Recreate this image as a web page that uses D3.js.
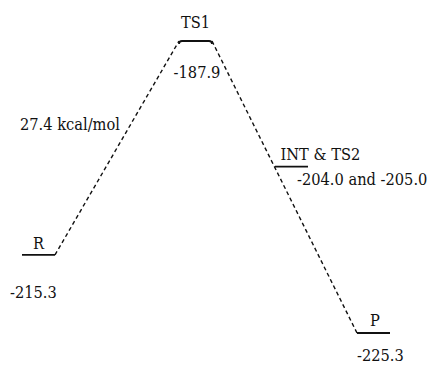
<!DOCTYPE html>
<html>
<head>
<meta charset="utf-8">
<script src="https://cdn.jsdelivr.net/npm/d3@7"></script>
<style>
  html, body { margin: 0; padding: 0; background: #fff; }
  svg { display: block; }
</style>
</head>
<body>
<svg id="chart" width="433" height="366"></svg>
<script>
// Stationary points along the reaction path (kcal/mol)
const species = ["R", "TS1", "INT", "P"];
const names = ["R", "TS1", "INT & TS2", "P"];
const energies = [-215.3, -187.9, -204.0, -225.3];
const energyLabels = ["-215.3", "-187.9", "-204.0 and -205.0", "-225.3"];

const svg = d3.select("#chart");
const FONT = "'DejaVu Serif', serif";
const SQUEEZE = 0.86; // narrower glyphs, closer to a Times-style face

// Reaction coordinate (schematic) and energy axis
const x = d3.scaleOrdinal().domain(species).range([38.5, 195.5, 291.5, 373.5]);
const y = d3.scaleLinear().domain([-225.3, -187.9]).range([333, 41]);
const halfW = 16.5;

const pts = species.map((s, i) => ({ s, name: names[i], e: energies[i], lab: energyLabels[i] }));
const byS = Object.fromEntries(pts.map(p => [p.s, p]));

// Dashed connectors: R -> TS1 -> P (INT & TS2 sits on the descending branch)
const conn = [[byS.R, byS.TS1], [byS.TS1, byS.P]];
svg.selectAll("line.conn").data(conn).join("line")
  .attr("class", "conn")
  .attr("x1", d => x(d[0].s) + halfW)
  .attr("y1", d => y(d[0].e))
  .attr("x2", d => x(d[1].s) - halfW)
  .attr("y2", d => y(d[1].e))
  .attr("stroke", "#111")
  .attr("stroke-width", 1.4)
  .attr("stroke-dasharray", "4,3");

// Energy levels
svg.selectAll("path.level").data(pts).join("path")
  .attr("class", "level")
  .attr("d", d => {
    const x0 = x(d.s) - halfW, x1 = x(d.s) + halfW, yy = y(d.e);
    if (d.s === "TS1") {
      return `M${x0},${yy + 3}Q${x0},${yy} ${x0 + 3},${yy}L${x1 - 3},${yy}Q${x1},${yy} ${x1},${yy + 3}`;
    }
    return `M${x0},${yy}L${x1},${yy}`;
  })
  .attr("fill", "none")
  .attr("stroke", "#111")
  .attr("stroke-width", 1.8);

// Label placement relative to each level
const nameOff = { R: [0, -6, "middle"], TS1: [0, -13.5, "middle"], INT: [-11, -7, "start"], P: [1.5, -7, "middle"] };
const valOff = { R: [-28.5, 43, "start"], TS1: [1.5, 36.5, "middle"], INT: [5.5, 18, "start"], P: [-16.5, 28, "start"] };

function styleText(sel) {
  return sel.attr("font-family", FONT).attr("font-size", 17).attr("fill", "#111");
}
function squeeze(sel) {
  sel.each(function () {
    const w = this.getComputedTextLength();
    d3.select(this).attr("textLength", w * SQUEEZE).attr("lengthAdjust", "spacingAndGlyphs");
  });
}

svg.selectAll("text.name").data(pts).join("text")
  .attr("class", "name")
  .call(styleText)
  .attr("x", d => x(d.s) + nameOff[d.s][0])
  .attr("y", d => y(d.e) + nameOff[d.s][1])
  .attr("text-anchor", d => nameOff[d.s][2])
  .text(d => d.name)
  .call(squeeze);

svg.selectAll("text.val").data(pts).join("text")
  .attr("class", "val")
  .call(styleText)
  .attr("x", d => x(d.s) + valOff[d.s][0])
  .attr("y", d => y(d.e) + valOff[d.s][1])
  .attr("text-anchor", d => valOff[d.s][2])
  .text(d => d.lab)
  .call(squeeze);

// Activation barrier annotation
const barrier = (byS.TS1.e - byS.R.e).toFixed(1);
svg.append("text")
  .call(styleText)
  .attr("x", 20)
  .attr("y", 130)
  .text(`${barrier} kcal/mol`)
  .call(squeeze);
</script>
</body>
</html>
